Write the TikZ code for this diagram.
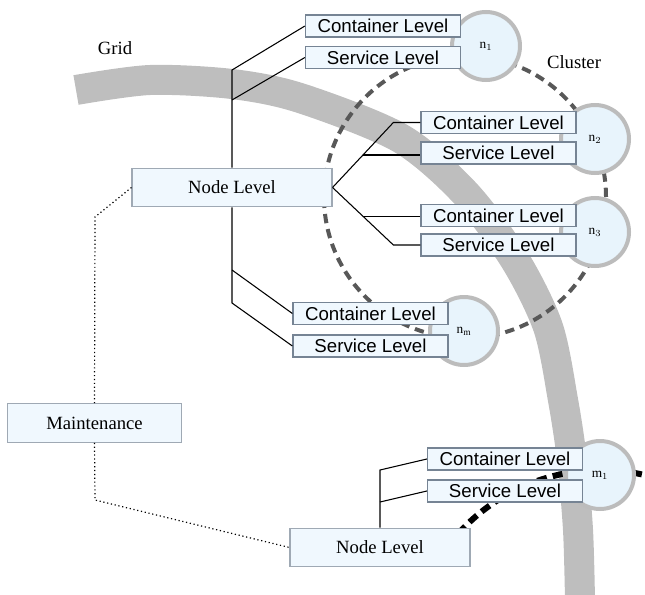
\documentclass[tikz,border=0pt]{standalone}
\usepackage{fontspec}
\setmainfont{Liberation Serif}
\setsansfont{Liberation Sans}
\usetikzlibrary{calc,positioning}

\definecolor{boxfill}{RGB}{240,248,254}
\definecolor{boxline}{RGB}{118,132,148}
\definecolor{hostfill}{RGB}{232,244,252}
\definecolor{hostline}{RGB}{188,188,188}
\definecolor{bandgray}{RGB}{190,190,190}
\definecolor{clustergray}{RGB}{88,88,88}

\begin{document}
\begin{tikzpicture}[x=0.75pt,y=0.75pt,
  lvl/.style={draw=boxline,fill=boxfill,line width=1.2pt,rectangle,inner sep=0pt,
    minimum width=116pt,minimum height=16.5pt,font=\sffamily\fontsize{14}{14}\selectfont},
  top/.style={draw=boxline!70,fill=boxfill,line width=0.8pt,rectangle,inner sep=0pt,
    minimum height=29pt,font=\fontsize{14}{14}\selectfont},
  host/.style={circle,draw=hostline,fill=hostfill,line width=3pt,inner sep=0pt,
    minimum size=51pt,font=\fontsize{10}{10}\selectfont},
  link/.style={line width=0.8pt},
  maint/.style={dotted,line width=0.9pt},
  txt/.style={font=\fontsize{14}{14}\selectfont}]

\useasboundingbox (0,0) rectangle (645,594);

% grid band and clusters
\draw[bandgray,line width=22.5pt] plot[smooth] coordinates {(76,504) (150,514) (232,510)
  (300,496) (400,456) (465,401) (515,334) (548,267) (563,194) (572,134) (578,64) (580,-6)};
\draw[clustergray,line width=3pt,dash pattern=on 7pt off 4.5pt] (465,397) circle (141);
\draw[black,line width=4.5pt,dash pattern=on 7.5pt off 4.5pt]
  (601,-68) ++(138:192) arc[start angle=138,end angle=70,radius=192];

\node[txt] (grid) at (115,546) {Grid};
\node[txt] (clu) at (574,532) {Cluster};

% hosts
\node[host] (h1) at (486,548) {$\mathrm{n}_1$};
\node[host] (h2) at (595,455) {$\mathrm{n}_2$};
\node[host] (h3) at (595,362) {$\mathrm{n}_3$};
\node[host] (hm) at (464,263) {$\mathrm{n}_\mathrm{m}$};
\node[host] (hk) at (600,119) {$\mathrm{m}_1$};

\node[lvl] (c1) at (383,568) {Container Level};
\node[lvl] (s1) at (383,536.5) {Service Level};
\node[lvl] (c2) at (498.5,471.5) {Container Level};
\node[lvl] (s2) at (498.5,441) {Service Level};
\node[lvl] (c3) at (498.5,378.5) {Container Level};
\node[lvl] (s3) at (498.5,349) {Service Level};
\node[lvl] (cm) at (370.5,280.5) {Container Level};
\node[lvl] (sm) at (370.5,248) {Service Level};
\node[lvl] (ck) at (505,135) {Container Level};
\node[lvl] (sk) at (505,103) {Service Level};

\node[top,minimum width=150pt] (nl1) at (232,406.5) {Node Level};
\node[top,minimum width=135pt] (nl2) at (380,46.5) {Node Level};
\node[top,minimum width=131pt] (mt) at (94.5,171) {Maintenance};

% trunks
\coordinate (t1) at (232,524);
\coordinate (t2) at (232,494);
\draw[link] (nl1.north) -- (t1) -- (c1.west);
\draw[link] (t2) -- (s1.west);

\coordinate (u1) at ($(c2.west)+(-27,0)$);
\coordinate (u2) at ($(nl1.east)!0.5!(u1)$);
\draw[link] (nl1.east) -- (u1) -- (c2.west);
\draw[link] (u2) -- (u2 -| s2.west);

\coordinate (d1) at ($(s3.west)+(-27,0)$);
\coordinate (d2) at ($(nl1.east)!0.5!(d1)$);
\draw[link] (nl1.east) -- (d1) -- (s3.west);
\draw[link] (d2) -- (d2 -| c3.west);

\coordinate (b1) at (232,324);
\coordinate (b2) at (232,291);
\draw[link] (nl1.south) -- (b2) -- (sm.west);
\draw[link] (b1) -- (cm.west);

\coordinate (k1) at (380,124);
\coordinate (k2) at (380,92);
\draw[link] (nl2.north) -- (k1) -- (ck.west);
\draw[link] (k2) -- (sk.west);

% maintenance
\coordinate (m1) at (95,377);
\coordinate (m2) at (95,94);
\draw[maint] (nl1.west) -- (m1) -- (mt.north);
\draw[maint] (mt.south) -- (m2) -- (nl2.west);

\end{tikzpicture}
\end{document}
